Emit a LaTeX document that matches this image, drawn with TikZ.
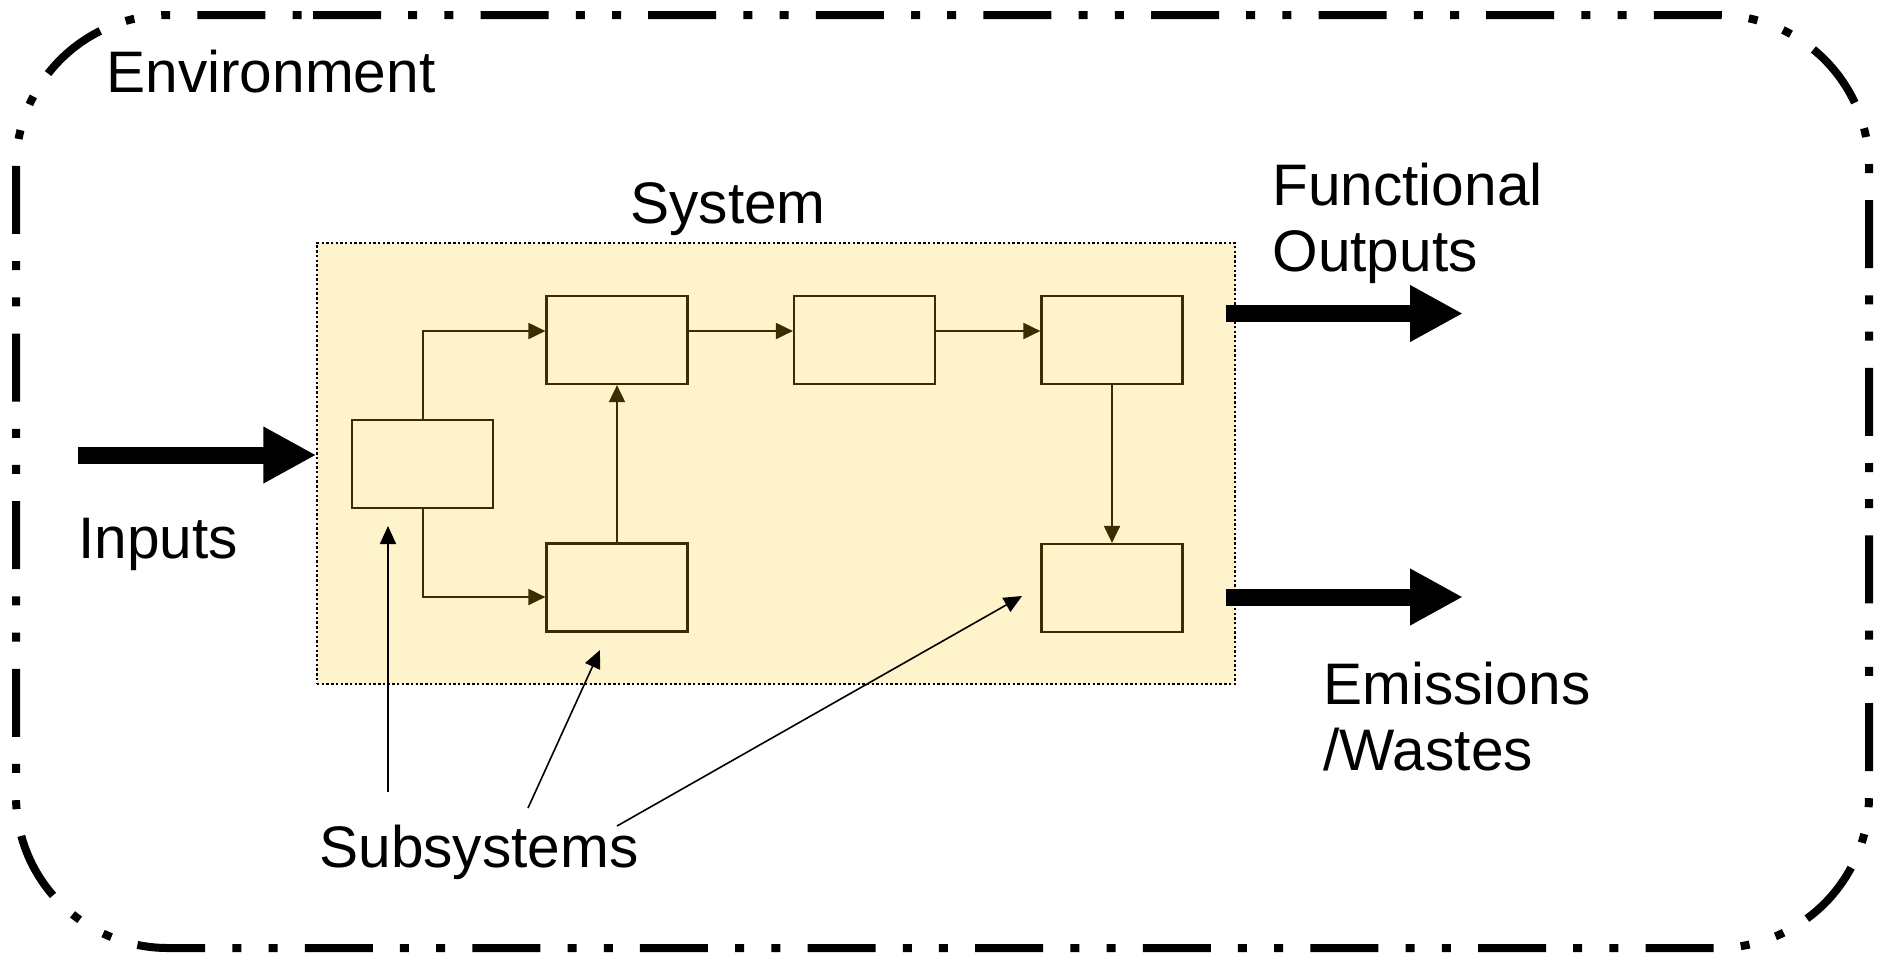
\documentclass[tikz,border=0pt]{standalone}
\usepackage{fontspec}
\setmainfont{Liberation Sans}
\usetikzlibrary{arrows.meta}
\definecolor{sysfill}{RGB}{255,243,204}
\definecolor{subdraw}{RGB}{56,46,0}
\begin{document}
\begin{tikzpicture}[x=0.5pt,y=-0.5pt,
  envline/.style={line width=4pt, dash pattern=on 34pt off 13.6pt on 4.5pt off 13.6pt on 4.5pt off 13.6pt},
  sysbox/.style={draw=black, fill=sysfill, line width=0.7pt, dash pattern=on 1.2pt off 1.15pt, inner sep=0pt},
  subbox/.style={draw=subdraw, fill=sysfill, line width=1.1pt, minimum width=70.5pt, minimum height=44pt, inner sep=0pt},
  flow/.style={draw=subdraw, line width=1pt, -{Triangle[length=8.5pt,width=8pt]}},
  bigarrow/.style={line width=8.5pt, -{Triangle[length=26.5pt,width=26.5pt]}},
  pointer/.style={line width=0.8pt, -{Triangle[length=9pt,width=8pt]}},
  lbl/.style={inner sep=0pt, anchor=base west, font=\fontsize{29.3}{33}\selectfont, align=left}
]
\useasboundingbox (0,0) rectangle (1878,954);

% environment boundary
\draw[envline, rounded corners=76pt] (313,15) -- (1869,15) -- (1869,948) -- (16,948) -- (16,15) -- (313,15);

% system
\node[sysbox, minimum width=459pt, minimum height=220.5pt] (sys) at (776,463.5) {};

% subsystems
\node[subbox] (A) at (422.5,464) {};
\node[subbox] (B) at (617,340) {};
\node[subbox] (C) at (617,587.5) {};
\node[subbox] (D) at (864.5,340) {};
\node[subbox] (E) at (1112,340) {};
\node[subbox] (F) at (1112,588) {};

\draw[flow] (A.north) |- ([yshift=4.5pt]B.west);
\draw[flow] (A.south) |- ([yshift=-4.75pt]C.west);
\draw[flow] (C.north) -- (B.south);
\draw[flow] ([yshift=4.5pt]B.east) -- ([yshift=4.5pt]D.west);
\draw[flow] ([yshift=4.5pt]D.east) -- ([yshift=4.5pt]E.west);
\draw[flow] (E.south) -- (F.north);

% big arrows
\coordinate (in1) at (78,455);
\coordinate (fo1) at (1226,313.5);
\coordinate (fo2) at (1463,313.5);
\coordinate (em1) at (1226,597);
\coordinate (em2) at (1463,597);
\draw[bigarrow] (in1) -- (in1 -| sys.west);
\draw[bigarrow] (fo1) -- (fo2);
\draw[bigarrow] (em1) -- (em2);

% labels
\node[lbl] (env) at (106,92) {Environment};
\node[lbl] (systxt) at (630,223) {System};
\node[lbl] (fo) at (1272,271) {Functional\\Outputs};
\node[lbl] (inp) at (78,558) {Inputs};
\node[lbl] (em) at (1323,770) {Emissions\\/Wastes};
\node[lbl] (sub) at (319,867) {Subsystems};

% pointers
\coordinate (t1) at (388,792);
\coordinate (p1) at (388,526);
\coordinate (t2) at (528,808);
\coordinate (p2) at (600,650);
\coordinate (t3) at (617,826);
\coordinate (p3) at (1022,596);
\draw[pointer] (t1) -- (p1);
\draw[pointer] (t2) -- (p2);
\draw[pointer] (t3) -- (p3);
\end{tikzpicture}
\end{document}
